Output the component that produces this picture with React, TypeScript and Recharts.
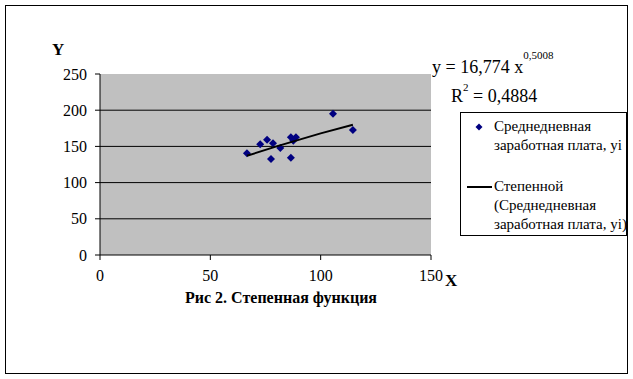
import {
  ScatterChart, Scatter, XAxis, YAxis, ReferenceLine, ReferenceArea,
} from "recharts";

// X — значения фактора, Y — среднедневная заработная плата
const xs = [66.6, 72.6, 75.7, 78.4, 77.5, 81.7, 86.5, 88.8, 87.6, 86.5, 105.6, 114.6];
const ys = [140.5, 152.9, 159.3, 154.3, 132.6, 147.8, 162.6, 162.6, 157.9, 134.4, 195.2, 172.7];

const trendX = [66.6, 80, 90, 100, 114.6];
const trendY = [137, 150, 159, 168, 180];

const xTicks = [0, 50, 100, 150];
const yTicks = [0, 50, 100, 150, 200, 250];
const gridY = [50, 100, 150, 200];

const points = xs.map((x, i) => ({ x, y: ys[i] }));
const trend = trendX.map((x, i) => ({ x, y: trendY[i] }));

const SERIF = "'Liberation Serif', 'Times New Roman', serif";
const TICK = { fontSize: 16, fill: "#000", fontFamily: SERIF } as const;
const SUP: React.CSSProperties = { fontSize: 11, verticalAlign: "baseline", position: "relative" };

function Diamond(props: any) {
  const { cx, cy } = props;
  if (cx == null || cy == null) return null;
  return <path d={`M${cx},${cy - 4} L${cx + 4},${cy} L${cx},${cy + 4} L${cx - 4},${cy} Z`} fill="#000080" />;
}

function LegendBox() {
  const txt: React.CSSProperties = {
    fontFamily: SERIF, fontSize: 15, lineHeight: "19px", color: "#000", whiteSpace: "nowrap",
  };
  return (
    <div style={{
      position: "absolute", left: 460, top: 112, width: 167, height: 124,
      border: "1px solid #000", background: "#fff", boxSizing: "border-box",
    }}>
      <svg width={32} height={120} style={{ position: "absolute", left: 0, top: 0 }}>
        <path d="M18,10.5 L21.5,14 L18,17.5 L14.5,14 Z" fill="#000080" />
        <line x1={6} x2={31} y1={74} y2={74} stroke="#000" strokeWidth={2} />
      </svg>
      <div style={{ ...txt, position: "absolute", left: 33, top: 4 }}>
        Среднедневная<br />заработная плата, yi
      </div>
      <div style={{ ...txt, position: "absolute", left: 33, top: 64 }}>
        Степенной<br />(Среднедневная<br />заработная плата, yi)
      </div>
    </div>
  );
}

export default function App() {
  return (
    <div style={{ position: "absolute", left: 0, top: 0, width: 633, height: 379, background: "#fff" }}>
      <div style={{
        position: "absolute", left: 5, top: 5, width: 623, height: 369,
        border: "1px solid #000", boxSizing: "border-box",
      }} />
      <div style={{ position: "absolute", left: 0, top: 0 }}>
        <ScatterChart width={633} height={379} margin={{ top: 74, right: 202, bottom: 94, left: 60 }}>
          <ReferenceArea x1={0} x2={150} y1={0} y2={250} fill="#C0C0C0" fillOpacity={1} stroke="none" ifOverflow="visible" />
          {gridY.map((v) => (
            <ReferenceLine key={v} y={v} stroke="#000" strokeWidth={1} />
          ))}
          <XAxis
            type="number" dataKey="x" domain={[0, 150]} ticks={xTicks} interval={0}
            tick={TICK} tickSize={5} tickMargin={10} height={30}
            axisLine={{ stroke: "#000" }} tickLine={{ stroke: "#000" }}
          />
          <YAxis
            type="number" dataKey="y" domain={[0, 250]} ticks={yTicks} interval={0}
            tick={TICK} tickSize={5} tickMargin={8} width={40}
            axisLine={{ stroke: "#000" }} tickLine={{ stroke: "#000" }}
          />
          <Scatter data={points} shape={<Diamond />} isAnimationActive={false} />
          <Scatter data={trend} line={{ stroke: "#000", strokeWidth: 2 }} shape={() => null} isAnimationActive={false} />
        </ScatterChart>
      </div>
      <div style={{ position: "absolute", left: 52, top: 40, fontFamily: SERIF, fontWeight: 700, fontSize: 17 }}>Y</div>
      <div style={{ position: "absolute", left: 445, top: 271, fontFamily: SERIF, fontWeight: 700, fontSize: 17 }}>X</div>
      <div style={{
        position: "absolute", left: 100, width: 362, top: 289, textAlign: "center",
        fontFamily: SERIF, fontWeight: 700, fontSize: 16,
      }}>Рис 2. Степенная функция</div>
      <div style={{ position: "absolute", left: 432, top: 56, lineHeight: "22px", fontFamily: SERIF, fontSize: 18, whiteSpace: "nowrap" }}>
        y = 16,774 x<sup style={{ ...SUP, top: -14 }}>0,5008</sup>
      </div>
      <div style={{ position: "absolute", left: 451, top: 85, lineHeight: "22px", fontFamily: SERIF, fontSize: 18, whiteSpace: "nowrap" }}>
        R<sup style={{ ...SUP, top: -11 }}>2</sup> = 0,4884
      </div>
      <LegendBox />
    </div>
  );
}
